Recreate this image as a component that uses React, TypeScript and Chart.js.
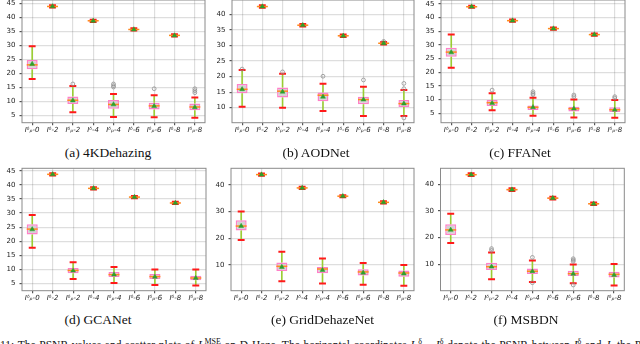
import React, { useEffect, useRef } from "react";
import { Chart, registerables } from "chart.js";

Chart.register(...registerables);

// ---------- data ----------
const categories = ["Iᵟₚ-0", "Iᵟ-2", "Iᵟₚ-2", "Iᵟ-4", "Iᵟₚ-4", "Iᵟ-6", "Iᵟₚ-6", "Iᵟ-8", "Iᵟₚ-8"];

// rows: [lowWhisker, q1, median, q3, highWhisker, mean]
const kDehazingStats = [
  [18.1, 21.5, 23.1, 24.8, 29.7, 23.4],
  [43.5, 43.75, 43.9, 44.05, 44.3, 43.9],
  [6.2, 9.2, 10.5, 11.8, 15.6, 10.4],
  [38.4, 38.65, 38.8, 38.95, 39.2, 38.75],
  [4.5, 7.5, 9.0, 10.6, 12.7, 9.0],
  [35.3, 35.55, 35.7, 35.85, 36.1, 35.7],
  [4.4, 7.2, 8.5, 9.6, 12.3, 8.4],
  [33.2, 33.45, 33.6, 33.75, 34.0, 33.55],
  [4.3, 6.9, 8.1, 9.3, 11.5, 8.0],
];
const kDehazingFliers = [[2, 16.3], [4, 16.3], [4, 15.7], [4, 15.2], [6, 14.6], [8, 14.6], [8, 13.9], [8, 13.2]];

const aodStats = [
  [10.3, 14.6, 15.9, 17.6, 22.1, 15.9],
  [42.1, 42.35, 42.5, 42.65, 42.9, 42.5],
  [10.0, 13.3, 15.3, 16.5, 20.9, 15.1],
  [36.1, 36.35, 36.5, 36.65, 36.9, 36.5],
  [8.9, 12.1, 14.0, 14.9, 17.7, 13.5],
  [32.7, 32.95, 33.1, 33.25, 33.5, 33.1],
  [7.3, 11.1, 12.6, 13.5, 16.7, 12.6],
  [30.3, 30.55, 30.7, 30.85, 31.1, 30.7],
  [7.3, 10.2, 11.3, 12.5, 15.7, 11.3],
];
const aodFliers = [[0, 22.4], [2, 21.5], [4, 20.1], [6, 18.9], [7, 31.3], [8, 17.8], [8, 16.1], [8, 6.7]];

const ffaStats = [
  [21.7, 25.7, 27.4, 29.0, 33.8, 27.3],
  [43.6, 43.85, 44.0, 44.15, 44.4, 44.0],
  [6.1, 7.7, 8.9, 9.9, 12.3, 8.7],
  [38.5, 38.75, 38.9, 39.05, 39.3, 38.9],
  [4.1, 6.2, 7.2, 7.9, 10.7, 7.2],
  [35.6, 35.85, 36.0, 36.15, 36.4, 36.0],
  [3.5, 5.7, 6.7, 7.4, 10.1, 6.7],
  [33.4, 33.65, 33.8, 33.95, 34.2, 33.8],
  [3.4, 5.5, 6.3, 7.2, 9.9, 6.3],
];
const ffaFliers = [[2, 13.5], [4, 12.9], [4, 12.3], [4, 11.8], [6, 11.7], [6, 11.1], [8, 11.1], [8, 10.6]];

const gcaStats = [
  [17.7, 22.4, 24.3, 26.0, 29.3, 24.2],
  [43.4, 43.65, 43.8, 43.95, 44.2, 43.8],
  [6.5, 8.6, 9.6, 10.5, 12.5, 9.5],
  [38.4, 38.65, 38.8, 38.95, 39.2, 38.8],
  [5.1, 7.3, 8.1, 9.0, 10.8, 8.1],
  [35.3, 35.55, 35.7, 35.85, 36.1, 35.7],
  [4.4, 6.5, 7.4, 8.3, 9.9, 7.3],
  [33.2, 33.45, 33.6, 33.75, 34.0, 33.6],
  [4.2, 6.1, 6.9, 7.7, 9.9, 6.9],
];
const gcaFliers: number[][] = [];

const gridStats = [
  [19.4, 22.9, 24.6, 26.75, 30.1, 24.6],
  [43.5, 43.75, 43.9, 44.05, 44.3, 43.9],
  [3.9, 7.75, 9.5, 10.9, 15.0, 9.25],
  [38.5, 38.75, 38.9, 39.05, 39.3, 38.9],
  [3.1, 6.9, 8.5, 9.25, 12.4, 8.1],
  [35.4, 35.65, 35.8, 35.95, 36.2, 35.8],
  [2.6, 6.1, 7.4, 8.4, 10.75, 7.1],
  [33.1, 33.35, 33.5, 33.65, 33.9, 33.5],
  [2.25, 5.6, 7.0, 7.9, 10.0, 6.75],
];
const gridFliers: number[][] = [];

const msbdnStats = [
  [18.0, 21.0, 22.9, 25.0, 29.0, 22.9],
  [43.1, 43.35, 43.6, 43.85, 44.1, 43.6],
  [4.4, 7.9, 9.1, 10.6, 14.4, 9.1],
  [37.5, 37.7, 38.0, 38.3, 38.5, 38.0],
  [3.4, 6.4, 7.4, 8.4, 11.4, 7.4],
  [34.3, 34.5, 34.8, 35.1, 35.3, 34.8],
  [2.9, 5.6, 6.5, 7.6, 9.9, 6.4],
  [32.2, 32.4, 32.7, 33.0, 33.2, 32.7],
  [2.1, 5.1, 6.25, 7.25, 10.1, 6.0],
];
const msbdnFliers = [[2, 15.9], [2, 15.25], [4, 12.6], [4, 3.1], [6, 12.1], [6, 11.6], [6, 11.1], [6, 2.25]];

const ticksBy5 = [5, 10, 15, 20, 25, 30, 35, 40, 45];
const ticksB = [10, 15, 20, 25, 30, 35, 40];
const ticksBy10 = [10, 20, 30, 40];

const captions = ["(a) 4KDehazing", "(b) AODNet", "(c) FFANet", "(d) GCANet", "(e) GridDehazeNet", "(f) MSBDN"];

// ---------- layout ----------
type PanelCfg = {
  stats: number[][];
  fliers: number[][];
  ticks: number[];
  yMin: number;
  yMax: number;
  plot: [number, number, number, number];
  caption: string;
  capX: number;
  capTop: number;
};

const panels: PanelCfg[] = [
  { stats: kDehazingStats, fliers: kDehazingFliers, ticks: ticksBy5, yMin: 2.5, yMax: 46.2, plot: [22, 0, 205, 122.7], caption: captions[0], capX: 108, capTop: 145 },
  { stats: aodStats, fliers: aodFliers, ticks: ticksB, yMin: 5.17, yMax: 44.6, plot: [232, 0, 414, 122.7], caption: captions[1], capX: 316, capTop: 145 },
  { stats: ffaStats, fliers: ffaFliers, ticks: ticksBy5, yMin: 1.57, yMax: 46.46, plot: [441, 0, 625, 122.7], caption: captions[2], capX: 520, capTop: 145 },
  { stats: gcaStats, fliers: gcaFliers, ticks: ticksBy5, yMin: 2.38, yMax: 45.94, plot: [22, 168.3, 206, 290.7], caption: captions[3], capX: 98, capTop: 312.3 },
  { stats: gridStats, fliers: gridFliers, ticks: ticksBy10, yMin: 0.36, yMax: 46.26, plot: [231, 168.3, 414, 290.7], caption: captions[4], capX: 322.5, capTop: 312.3 },
  { stats: msbdnStats, fliers: msbdnFliers, ticks: ticksBy10, yMin: 0.11, yMax: 46.0, plot: [440.5, 168.3, 624.3, 290.7], caption: captions[5], capX: 526, capTop: 312.3 },
];

const GRID = "rgba(0,0,0,0.13)";

function makeBoxPlugin(stats: number[][]) {
  return {
    id: "boxparts",
    afterDatasetDraw(chart: any, args: any) {
      if (args.index !== 0) return;
      const { ctx } = chart;
      const x = chart.scales.x;
      const y = chart.scales.y;
      const step = x.getPixelForValue(1) - x.getPixelForValue(0);
      const capHalf = step * 0.17;
      ctx.save();
      stats.forEach((s, i) => {
        const cx = x.getPixelForValue(i);
        ctx.strokeStyle = "#9acd32";
        ctx.lineWidth = 1.6;
        ctx.beginPath();
        ctx.moveTo(cx, y.getPixelForValue(s[0]));
        ctx.lineTo(cx, y.getPixelForValue(s[1]));
        ctx.moveTo(cx, y.getPixelForValue(s[3]));
        ctx.lineTo(cx, y.getPixelForValue(s[4]));
        ctx.stroke();
        ctx.strokeStyle = "#ff1a1a";
        ctx.lineWidth = 2;
        ctx.beginPath();
        for (const v of [s[0], s[4]]) {
          const py = y.getPixelForValue(v);
          ctx.moveTo(cx - capHalf, py);
          ctx.lineTo(cx + capHalf, py);
        }
        ctx.stroke();
      });
      const meta = args.meta;
      meta.data.forEach((bar: any, i: number) => {
        const p = bar.getProps(["x", "width"], true);
        const py = y.getPixelForValue(stats[i][2]);
        ctx.strokeStyle = "#ff8c1a";
        ctx.lineWidth = 1.5;
        ctx.beginPath();
        ctx.moveTo(p.x - p.width / 2, py);
        ctx.lineTo(p.x + p.width / 2, py);
        ctx.stroke();
      });
      ctx.restore();
    },
    afterDraw(chart: any) {
      const { ctx, chartArea } = chart;
      ctx.save();
      ctx.strokeStyle = "#8a8a8a";
      ctx.lineWidth = 1;
      ctx.strokeRect(chartArea.left, chartArea.top, chartArea.right - chartArea.left, chartArea.bottom - chartArea.top);
      ctx.restore();
    },
  };
}

function Panel({ cfg }: { cfg: PanelCfg }) {
  const ref = useRef<HTMLCanvasElement | null>(null);
  const [pl, pt, pr, pb] = cfg.plot;
  const cL = Math.floor(pl) - 24;
  const cT = Math.floor(pt) - 6;
  const cW = Math.ceil(pr) + 6 - cL;
  const cH = Math.ceil(pb) + 20 - cT;
  const yAxisW = pl - cL;
  const padTop = pt - cT;
  const padRight = cW - (pr - cL);
  const xAxisH = cT + cH - pb;

  useEffect(() => {
    if (!ref.current) return;
    const chart = new Chart(ref.current, {
      type: "bar",
      data: {
        labels: categories,
        datasets: [
          {
            type: "bar",
            data: cfg.stats.map((s) => [s[1], s[3]]),
            backgroundColor: "#d3d3d3",
            borderColor: "#ff80c8",
            borderWidth: 1.5,
            borderSkipped: false,
            barPercentage: 0.54,
            categoryPercentage: 1,
            order: 3,
          } as any,
          {
            type: "line",
            data: cfg.fliers.map(([i, v]) => ({ x: categories[i], y: v })),
            showLine: false,
            pointStyle: "circle",
            pointRadius: 1.9,
            pointBorderWidth: 0.8,
            pointBorderColor: "#909090",
            pointBackgroundColor: "rgba(0,0,0,0)",
            order: 2,
          } as any,
          {
            type: "line",
            data: cfg.stats.map((s) => s[5]),
            showLine: false,
            pointStyle: "triangle",
            pointRadius: 2.8,
            pointBorderWidth: 0.5,
            pointBorderColor: "#2ca02c",
            pointBackgroundColor: "#2ca02c",
            order: 1,
          } as any,
        ],
      },
      options: {
        responsive: false,
        animation: false,
        events: [],
        layout: { padding: { left: 0, top: padTop, right: padRight, bottom: 0 } },
        plugins: { legend: { display: false }, tooltip: { enabled: false } },
        scales: {
          x: {
            type: "category",
            offset: true,
            grid: { offset: false, color: GRID, lineWidth: 1.2, tickLength: 2.5, tickColor: "#555" },
            border: { display: false },
            ticks: {
              font: { family: "DejaVu Sans", size: 7, style: "italic" },
              color: "#222",
              padding: 1,
              maxRotation: 0,
              minRotation: 0,
              autoSkip: false,
            },
            afterFit: (s: any) => {
              s.height = xAxisH;
              s.paddingLeft = 0;
              s.paddingRight = 0;
            },
          },
          y: {
            type: "linear",
            min: cfg.yMin,
            max: cfg.yMax,
            afterBuildTicks: (s: any) => {
              s.ticks = cfg.ticks.map((v) => ({ value: v }));
            },
            grid: { color: GRID, lineWidth: 1.2, tickLength: 2.5, tickColor: "#555" },
            border: { display: false },
            ticks: {
              font: { family: "DejaVu Sans", size: 7 },
              color: "#222",
              padding: 4,
              callback: (v: any) => String(v),
            },
            afterFit: (s: any) => {
              s.width = yAxisW;
              s.paddingTop = 0;
              s.paddingBottom = 0;
            },
          },
        },
      } as any,
      plugins: [makeBoxPlugin(cfg.stats)],
    });
    return () => chart.destroy();
  }, []);

  return (
    <>
      <canvas ref={ref} width={cW} height={cH} style={{ position: "absolute", left: cL, top: cT, width: cW, height: cH }} />
      <div
        style={{
          position: "absolute",
          left: cfg.capX - 100,
          width: 200,
          top: cfg.capTop,
          textAlign: "center",
          fontFamily: "'Liberation Serif', 'DejaVu Serif', serif",
          fontSize: 13.5,
          lineHeight: "15px",
          color: "#111",
          whiteSpace: "nowrap",
        }}
      >
        {cfg.caption}
      </div>
    </>
  );
}

export default function App() {
  return (
    <div style={{ position: "absolute", left: 0, top: 0, width: 640, height: 344, overflow: "hidden", background: "#fff" }}>
      {panels.map((p, i) => (
        <Panel key={i} cfg={p} />
      ))}
      <div
        style={{
          position: "absolute",
          left: 0,
          top: 334.9,
          fontFamily: "'Liberation Serif', serif",
          fontSize: 11.5,
          lineHeight: "13px",
          wordSpacing: "0.8px",
          color: "#111",
          whiteSpace: "nowrap",
        }}
      >
        11: The PSNR values and scatter plots of <i>L</i>
        <sup style={{ fontSize: 8 }}>MSE</sup> on D-Haze. The horizontal coordinates <i>I</i>
        <sub style={{ fontSize: 8 }}>p</sub>
        <sup style={{ fontSize: 8 }}>δ</sup> − <i>I</i>
        <sup style={{ fontSize: 8 }}>δ</sup> denote the PSNR between <i>I</i>
        <sup style={{ fontSize: 8 }}>δ</sup> and <i>J</i>, the PSNR between
      </div>
    </div>
  );
}
